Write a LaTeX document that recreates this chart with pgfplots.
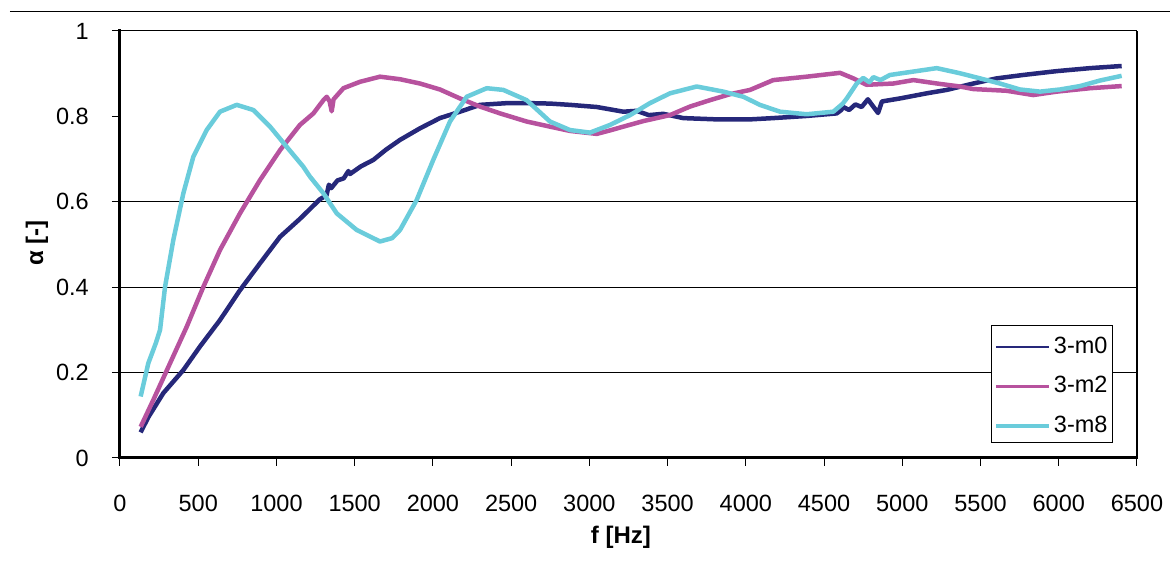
\documentclass[border=0pt]{standalone}
\usepackage{pgfplots}
\pgfplotsset{compat=1.18}
\usepackage{pgfplotstable}
\usepackage{fontspec}
\setmainfont{Liberation Sans}
\definecolor{cNavy}{RGB}{38,40,122}
\definecolor{cMag}{RGB}{183,82,158}
\definecolor{cCyan}{RGB}{106,204,219}

\pgfplotstableread{
f a
132 0.060
180 0.095
277 0.152
405 0.206
511 0.261
639 0.323
767 0.393
895 0.456
1023 0.518
1150 0.560
1278 0.606
1320 0.615
1335 0.640
1350 0.632
1390 0.650
1430 0.655
1460 0.672
1470 0.665
1540 0.683
1619 0.698
1700 0.722
1790 0.745
1917 0.772
2045 0.796
2173 0.811
2301 0.827
2472 0.831
2620 0.831
2748 0.830
2876 0.827
3047 0.822
3217 0.811
3302 0.813
3380 0.803
3472 0.806
3600 0.796
3814 0.793
4027 0.793
4175 0.796
4389 0.801
4581 0.807
4610 0.815
4623 0.822
4660 0.815
4700 0.828
4740 0.822
4780 0.840
4845 0.808
4870 0.835
4985 0.842
5156 0.854
5284 0.862
5454 0.877
5603 0.889
5773 0.897
5987 0.906
6200 0.913
6402 0.918
}\tabA

\pgfplotstableread{
f a
132 0.073
213 0.136
320 0.222
426 0.307
533 0.401
639 0.487
767 0.573
895 0.651
1023 0.721
1150 0.780
1236 0.807
1300 0.838
1321 0.846
1340 0.835
1353 0.812
1365 0.840
1428 0.866
1534 0.881
1662 0.893
1790 0.887
1917 0.877
2045 0.863
2173 0.842
2301 0.823
2429 0.807
2599 0.788
2748 0.776
2876 0.766
3047 0.759
3140 0.768
3217 0.776
3345 0.789
3515 0.803
3643 0.823
3771 0.838
3899 0.852
4027 0.862
4175 0.885
4389 0.893
4602 0.902
4687 0.889
4772 0.874
4943 0.877
5071 0.885
5241 0.876
5369 0.870
5454 0.864
5667 0.860
5837 0.850
5987 0.858
6200 0.866
6402 0.871
}\tabB

\pgfplotstableread{
f a
132 0.144
181 0.222
230 0.270
256 0.300
288 0.401
341 0.511
405 0.620
469 0.706
554 0.768
639 0.811
746 0.827
852 0.815
959 0.776
1065 0.729
1172 0.682
1214 0.659
1300 0.620
1385 0.573
1513 0.534
1662 0.507
1740 0.515
1790 0.534
1896 0.604
2002 0.698
2109 0.788
2216 0.846
2344 0.866
2450 0.862
2599 0.838
2748 0.788
2876 0.768
3004 0.762
3132 0.780
3260 0.803
3387 0.831
3515 0.854
3686 0.870
3856 0.858
3984 0.846
4090 0.827
4218 0.811
4389 0.805
4559 0.811
4620 0.830
4645 0.842
4709 0.877
4750 0.890
4790 0.880
4815 0.892
4860 0.885
4921 0.897
5071 0.905
5220 0.913
5369 0.901
5497 0.889
5624 0.877
5752 0.863
5880 0.858
6008 0.863
6136 0.871
6264 0.884
6402 0.895
}\tabC

\begin{document}
\begin{tikzpicture}[x=1bp,y=1bp]
\path[use as bounding box] (-120,-119) rectangle (1050,458);
\draw[line width=1bp] (-110,446) -- (1050,446);
\begin{axis}[
  at={(0,0)}, anchor=south west,
  scale only axis, width=1017bp, height=427bp,
  xmin=0, xmax=6500, ymin=0, ymax=1,
  xtick={0,500,...,6500},
  ytick={0,0.2,0.4,0.6,0.8,1},
  yticklabels={0,0.2,0.4,0.6,0.8,1},
  xtick pos=bottom, ytick pos=left,
  tick align=outside, major tick length=8bp,
  tick style={line width=1bp, black},
  axis line style={line width=1bp},
  /pgf/number format/assume math mode=true,
  /pgf/number format/1000 sep={},
  ticklabel style={font=\fontsize{23.5bp}{27bp}\selectfont, inner sep=0pt},
  xticklabel style={anchor=center, yshift=-37bp},
  yticklabel style={anchor=east, xshift=-23bp},
  extra y ticks={0.2,0.4,0.6},
  extra y tick labels={},
  extra y tick style={grid=major, major grid style={black, line width=1bp}},
  xlabel={\bfseries f [Hz]},
  ylabel={\bfseries α [-]},
  label style={font=\fontsize{24bp}{27bp}\selectfont},
  xlabel style={at={(axis description cs:0.4926,-0.185)}, anchor=center},
  ylabel style={at={(axis description cs:-0.0816,0.5035)}, anchor=center},
  clip mode=individual,
  legend style={at={(0.9764,0.0351)}, anchor=south east, draw=black, line width=1bp,
    fill=white, font=\fontsize{23.5bp}{27bp}\selectfont,
    inner xsep=2.5bp, inner ysep=7.5bp, row sep=16.5bp,
    nodes={inner xsep=2.5bp, inner ysep=3bp, text height=17bp, text depth=0bp}},
  legend cell align=left,
  legend image code/.code={\draw[#1] (0bp,-2bp) -- (53bp,-2bp);},
]
\addplot[cNavy, line width=4.5bp, line join=round, forget plot] table[x=f,y=a] {\tabA};
\addplot[cMag, line width=4.5bp, line join=round, forget plot] table[x=f,y=a] {\tabB};
\addplot[cCyan, line width=4.5bp, line join=round, forget plot] table[x=f,y=a] {\tabC};
\addlegendimage{cNavy, line width=2bp}
\addlegendentry{3-m0}
\addlegendimage{cMag, line width=3bp}
\addlegendentry{3-m2}
\addlegendimage{cCyan, line width=4bp}
\addlegendentry{3-m8}
\draw[line width=3bp, line cap=rect] (rel axis cs:0,1) -- (rel axis cs:0,0) -- (rel axis cs:1,0);
\draw[line width=2bp] (rel axis cs:1,0) -- (rel axis cs:1,1);
\end{axis}
\end{tikzpicture}
\end{document}
